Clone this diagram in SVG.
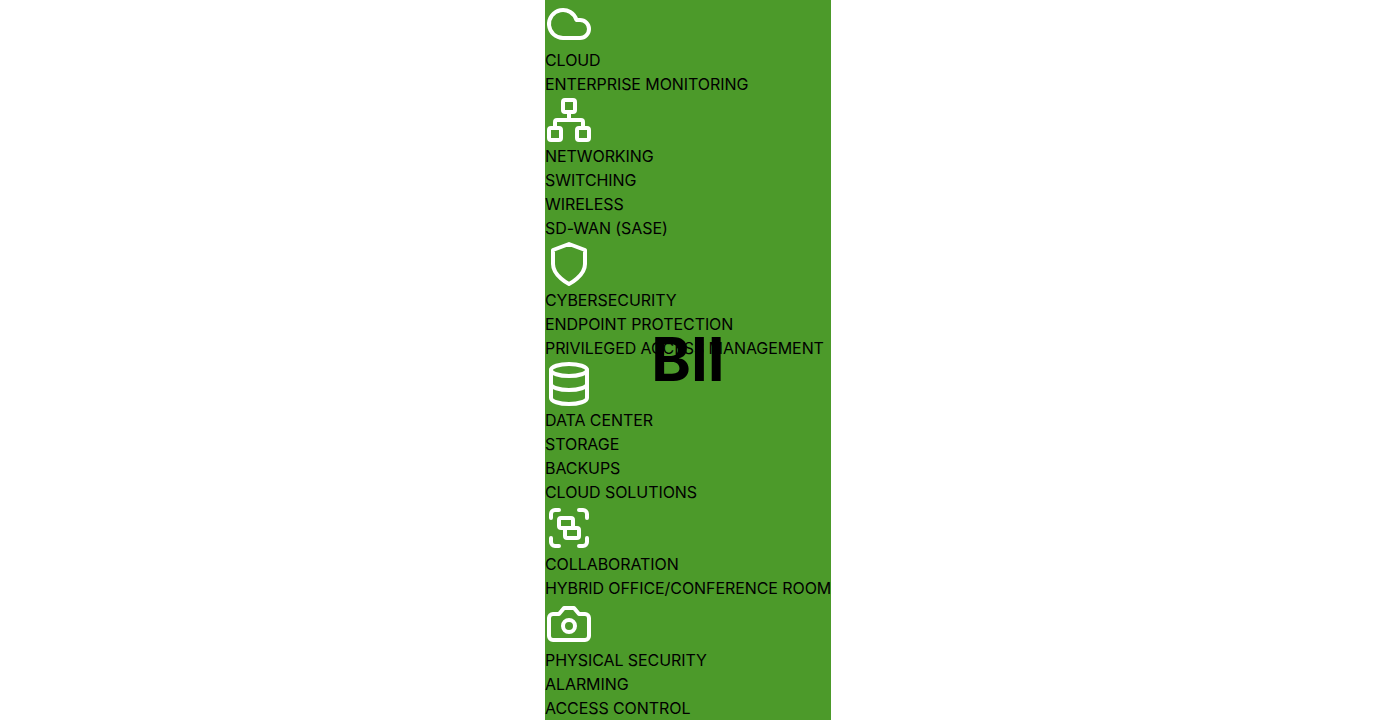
<svg xmlns="http://www.w3.org/2000/svg" width="1376" height="720" viewBox="0 0 1376 720">
<style>
text{font-family:Inter,"Liberation Sans",sans-serif;font-size:16px;fill:#000;letter-spacing:-0.075px}
.i{fill:none;stroke:#fff;stroke-width:2;stroke-linecap:round;stroke-linejoin:round}
#logo text{font-size:60px;font-weight:700;text-anchor:middle;letter-spacing:0}
</style>
<rect width="1376" height="720" fill="#fff"/>
<rect id="panel" x="545" width="286" height="720" fill="#4c9a2a"/>
<g id="cloud">
<path class="i" transform="translate(545 0) scale(2)" d="M17.5 19H9a7 7 0 1 1 6.71-9h1.79a4.5 4.5 0 1 1 0 9Z"/>
<text x="545" y="66">CLOUD</text>
<text x="545" y="90">ENTERPRISE MONITORING</text>
</g>
<g id="networking">
<g class="i" transform="translate(545 96) scale(2)"><rect x="16" y="16" width="6" height="6" rx="1"/><rect x="2" y="16" width="6" height="6" rx="1"/><rect x="9" y="2" width="6" height="6" rx="1"/><path d="M5 16v-3a1 1 0 0 1 1-1h12a1 1 0 0 1 1 1v3"/><path d="M12 12V8"/></g>
<text x="545" y="162">NETWORKING</text>
<text x="545" y="186">SWITCHING</text>
<text x="545" y="210">WIRELESS</text>
<text x="545" y="234">SD-WAN (SASE)</text>
</g>
<g id="cybersecurity">
<path class="i" transform="translate(545 240) scale(2)" d="M12 22s8-4 8-10V5l-8-3-8 3v7c0 6 8 10 8 10z"/>
<text x="545" y="306">CYBERSECURITY</text>
<text x="545" y="330">ENDPOINT PROTECTION</text>
<text x="545" y="354">PRIVILEGED ACCESS MANAGEMENT</text>
</g>
<g id="data-center">
<g class="i" transform="translate(545 360) scale(2)"><ellipse cx="12" cy="5" rx="9" ry="3"/><path d="M3 5V19A9 3 0 0 0 21 19V5"/><path d="M3 12A9 3 0 0 0 21 12"/></g>
<text x="545" y="426">DATA CENTER</text>
<text x="545" y="450">STORAGE</text>
<text x="545" y="474">BACKUPS</text>
<text x="545" y="498">CLOUD SOLUTIONS</text>
</g>
<g id="collaboration">
<g class="i" transform="translate(545 504) scale(2)"><path d="M3 7V5c0-1.1.9-2 2-2h2"/><path d="M17 3h2c1.1 0 2 .9 2 2v2"/><path d="M21 17v2c0 1.1-.9 2-2 2h-2"/><path d="M7 21H5c-1.1 0-2-.9-2-2v-2"/><rect x="7" y="7" width="7" height="5" rx="1"/><rect x="10" y="12" width="7" height="5" rx="1"/></g>
<text x="545" y="570">COLLABORATION</text>
<text x="545" y="594">HYBRID OFFICE/CONFERENCE ROOM</text>
</g>
<g id="physical-security">
<g class="i" transform="translate(545 600) scale(2)"><path d="M14.5 4h-5L7 7H4a2 2 0 0 0-2 2v9a2 2 0 0 0 2 2h16a2 2 0 0 0 2-2V9a2 2 0 0 0-2-2h-3l-2.5-3z"/><circle cx="12" cy="13" r="3"/></g>
<text x="545" y="666">PHYSICAL SECURITY</text>
<text x="545" y="690">ALARMING</text>
<text x="545" y="714">ACCESS CONTROL</text>
</g>
<g id="logo"><text x="688" y="381">BII</text></g>
</svg>
